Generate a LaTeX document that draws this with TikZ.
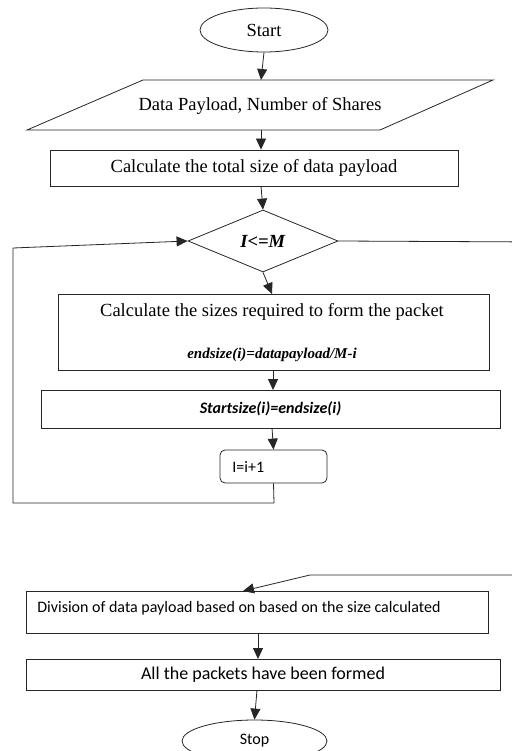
\documentclass[tikz,border=0pt]{standalone}
\usepackage{fontspec}
\setmainfont{Liberation Serif}
\newfontfamily\calib{Carlito}
\usetikzlibrary{shapes.geometric,arrows.meta}
\begin{document}
\begin{tikzpicture}[x=1pt,y=-1pt,
  line width=0.8pt,
  flow/.style={draw=black!85, line width=0.8pt, -{Triangle[length=11pt,width=10pt]}},
  plain/.style={draw=black!75, line width=0.9pt},
  box/.style={draw=black!85, line width=0.8pt, rectangle, inner sep=0pt, fill=white},
  serif/.style={font=\fontsize{18.5}{22}\selectfont},
  sans/.style={font=\calib\fontsize{16}{19}\selectfont}]
\useasboundingbox (0,0) rectangle (511,751);
\fill[white] (0,0) rectangle (511,751);

% Start
\node[draw=black!85, ellipse, minimum width=128pt, minimum height=44pt, inner sep=0pt, serif] (start) at (264,30) {Start};

% Input parallelogram
\coordinate (pTL) at (143,80);
\coordinate (pTR) at (493,80);
\coordinate (pBR) at (380,130);
\coordinate (pBL) at (27,130);
\draw[draw=black!85] (pTL) -- (pTR) -- (pBR) -- (pBL) -- cycle;
\node[serif, inner sep=0pt] (input) at (260,106) {Data Payload, Number of Shares};
\coordinate (intop) at (261,80);
\coordinate (inbot) at (261,130);

% total size
\node[box, minimum width=408pt, minimum height=36pt, serif] (total) at (254,168) {Calculate the total size of data payload};

% decision
\node[draw=black!85, diamond, minimum width=150pt, minimum height=62pt, inner sep=0pt, serif] (dec) at (263,241) {\textbf{\textit{I<=M}}};

% sizes box
\node[box, minimum width=431pt, minimum height=76pt] (sizes) at (273.5,332) {};
\node[serif, inner sep=0pt] (sizesA) at (272,312) {Calculate the sizes required to form the packet};
\node[inner sep=0pt, font=\fontsize{15}{18}\selectfont] (sizesB) at (272,355) {\textbf{\textit{endsize(i)=datapayload/M-i}}};

% startsize
\node[box, minimum width=459pt, minimum height=38pt, sans] (ss) at (270.5,409) {\textbf{\textit{Startsize(i)=endsize(i)}}};

% increment
\node[box, rounded corners=5pt, minimum width=107pt, minimum height=33pt] (inc) at (273.5,466.5) {};
\node[sans, inner sep=0pt, anchor=west] (incT) at (232,467) {I=i+1};

% division
\node[box, minimum width=462pt, minimum height=42pt] (div) at (257,612) {};
\node[sans, inner sep=0pt, anchor=west] (divT) at (37,608) {Division of data payload based on based on the size calculated};

% all formed
\node[box, minimum width=474pt, minimum height=31pt, font=\calib\fontsize{18}{21}\selectfont] (all) at (263,674.5) {All the packets have been formed};

% stop
\node[draw=black!85, ellipse, minimum width=145pt, minimum height=42pt, inner sep=0pt, sans, fill=white] (stop) at (254.5,741) {Stop};

% connectors
\draw[flow] (start.south) -- (intop);
\draw[flow] (inbot) -- (total.north -| inbot);
\draw[flow] (261,186) -- (dec.north);
\draw[flow] (dec.south) -- (272,294);
\draw[flow] (273,370) -- (273,390);
\draw[flow] (272,428) -- (inc.north);
\coordinate (loopA) at (274,503);
\coordinate (loopB) at (13,503);
\coordinate (loopC) at (13,248);
\draw[flow] (inc.south) -- (loopA) -- (loopB) -- (loopC) -- (dec.west);
\coordinate (exA) at (540,242);
\coordinate (exB) at (540,575);
\coordinate (exC) at (310,575);
\draw[flow] (dec.east) -- (exA) -- (exB) -- (exC) -- (243,591);
\draw[flow] (258,633) -- (258,659);
\draw[flow] (257,690) -- (stop.north);
\end{tikzpicture}
\end{document}
